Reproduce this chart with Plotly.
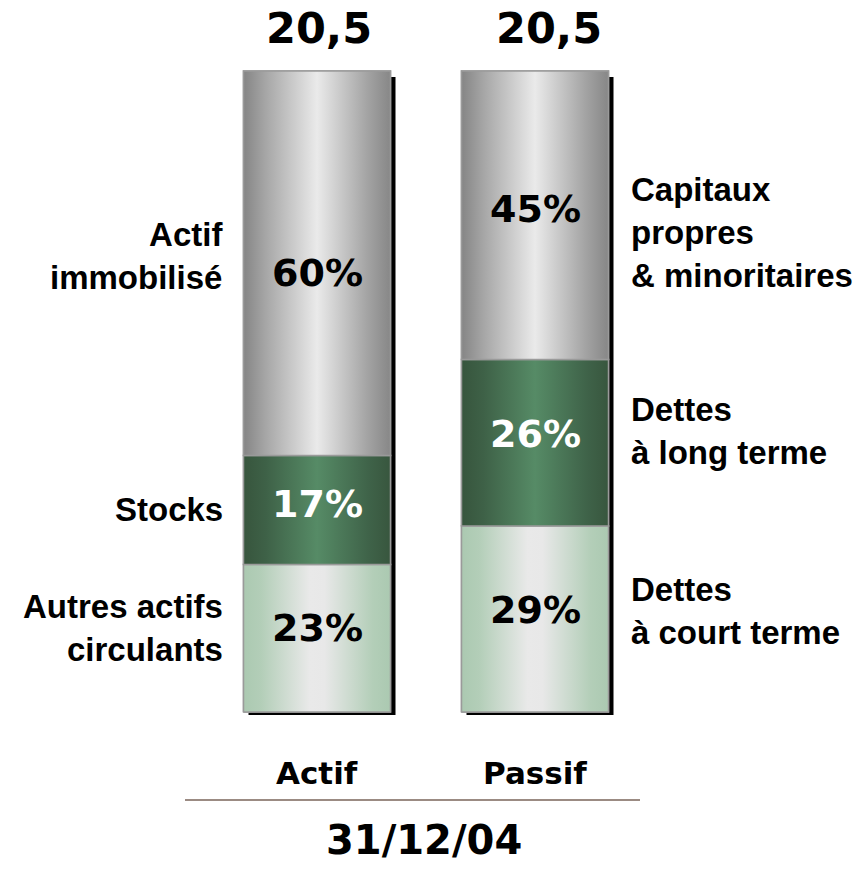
import plotly.graph_objects as go

# ---- data ----
columns = ["Actif", "Passif"]
totals = [20.5, 20.5]
date_label = "31/12/04"

# segments listed bottom -> top
actif_labels = ["Autres actifs<br>circulants", "Stocks", "Actif<br>immobilisé"]
actif_values = [23, 17, 60]
passif_labels = ["Dettes<br>à court terme", "Dettes<br>à long terme", "Capitaux<br>propres<br>& minoritaires"]
passif_values = [29, 26, 45]

# ---- styles ----
W, H = 865, 871
PXX = 218.0                 # pixels per x unit (distance between bar centres)
C0 = 317.0                  # pixel x of first bar centre
BAR_TOP, BAR_BOT = 71.0, 712.0
PXY = (BAR_BOT - BAR_TOP) / 100.0
BAR_W = 147.0 / PXX

x_range = [-C0 / PXX, (W - C0) / PXX]
y_range = [-(H - BAR_BOT) / PXY, 100 + BAR_TOP / PXY]

gray_cs = [[0, '#858585'], [0.15, '#a6a6a6'], [0.5, '#eaeaea'], [0.85, '#a2a2a2'], [1, '#878787']]
dgreen_cs = [[0, '#37553d'], [0.15, '#3e6147'], [0.5, '#568b66'], [0.85, '#3f6349'], [1, '#38563e']]
lgreen_cs = [[0, '#abc9b1'], [0.12, '#b3ceb8'], [0.45, '#e9e9e9'], [0.55, '#e8e8e8'], [0.88, '#b3ceb8'], [1, '#abc9b1']]
seg_styles = [lgreen_cs, dgreen_cs, gray_cs]
seg_base_colors = ['#c8dacb', '#467352', '#bdbdbd']
pct_colors = ['black', 'white', 'black']
pct_shift = [[10, 6, -10], [9, 9, 6]]
side_shift = [[10, 1, 7], [8, 12, -17]]
side_x_px = [225, 629]

PCT_FONT = dict(family="DejaVu Sans", size=38, weight='bold')
SIDE_FONT = dict(family="Liberation Sans", size=33, color='black')

fig = go.Figure()

series = [(actif_labels, actif_values), (passif_labels, passif_values)]

# shadows
for i, (labs, vals) in enumerate(series):
    total = sum(vals)
    fig.add_trace(go.Bar(
        x=[i], y=[total - 6 / PXY + 3 / PXY], base=[-3 / PXY],
        width=BAR_W, offset=-BAR_W / 2 + 5 / PXX,
        marker=dict(color='black', line=dict(width=0)),
        hoverinfo='skip', showlegend=False))

annotations = []
for i, (labs, vals) in enumerate(series):
    base = 0
    for j, (lab, v) in enumerate(zip(labs, vals)):
        # stacked bar segment
        fig.add_trace(go.Bar(
            x=[i], y=[v], base=[base], width=BAR_W,
            marker=dict(color=seg_base_colors[j], line=dict(color='#9a9a9a', width=1.5)),
            name=lab, showlegend=False, hoverinfo='skip'))
        # gradient overlay with identical geometry
        x0, x1 = i - BAR_W / 2, i + BAR_W / 2
        fig.add_trace(go.Scatter(
            x=[x0, x1, x1, x0, x0], y=[base, base, base + v, base + v, base],
            mode='lines', fill='toself',
            fillgradient=dict(type='horizontal', colorscale=seg_styles[j]),
            line=dict(color='#9a9a9a', width=1.5),
            hoverinfo='skip', showlegend=False))
        mid = base + v / 2
        annotations.append(dict(
            x=i, y=mid, xref='x', yref='y', text=f"{v}%", showarrow=False,
            yshift=pct_shift[i][j],
            font=dict(**PCT_FONT, color=pct_colors[j])))
        sx = (side_x_px[i] - C0) / PXX
        annotations.append(dict(
            x=sx, y=mid, xref='x', yref='y', text="<b>" + lab.replace("<br>", "</b><br><b>") + "</b>",
            showarrow=False,
            xanchor='right' if i == 0 else 'left',
            align='right' if i == 0 else 'left',
            yshift=side_shift[i][j], font=SIDE_FONT))
        base += v
    # total on top
    annotations.append(dict(
        x=i, y=base, xref='x', yref='y', text=f"{totals[i]:.1f}".replace('.', ','),
        showarrow=False, yanchor='middle', yshift=BAR_TOP - 28,
        xshift=[2, 14][i],
        font=dict(family="DejaVu Sans", size=43, color='black', weight='bold')))
    # column label
    annotations.append(dict(
        x=i, y=1 - 773 / H, xref='x', yref='paper', text=columns[i], showarrow=False,
        yanchor='middle',
        font=dict(family="DejaVu Sans", size=31, color='black', weight='bold')))

annotations.append(dict(
    x=(C0 + 107) / W, y=1 - 840 / H, xref='paper', yref='paper', text=date_label,
    showarrow=False, yanchor='middle', xanchor='center',
    font=dict(family="DejaVu Sans", size=40, color='black', weight='bold')))

fig.add_shape(type='line', xref='paper', yref='paper',
              x0=185 / W, x1=640 / W, y0=1 - 800 / H, y1=1 - 800 / H,
              line=dict(color='#9b8b83', width=2))

fig.update_layout(
    width=W, height=H, margin=dict(l=0, r=0, t=0, b=0),
    paper_bgcolor='white', plot_bgcolor='white',
    barmode='overlay', showlegend=False,
    xaxis=dict(range=x_range, visible=False, fixedrange=True),
    yaxis=dict(range=y_range, visible=False, fixedrange=True),
    annotations=annotations)

fig.write_html("out.html", config={'displayModeBar': False},
               post_script="document.body.style.margin='0';document.body.style.overflow='hidden';")
